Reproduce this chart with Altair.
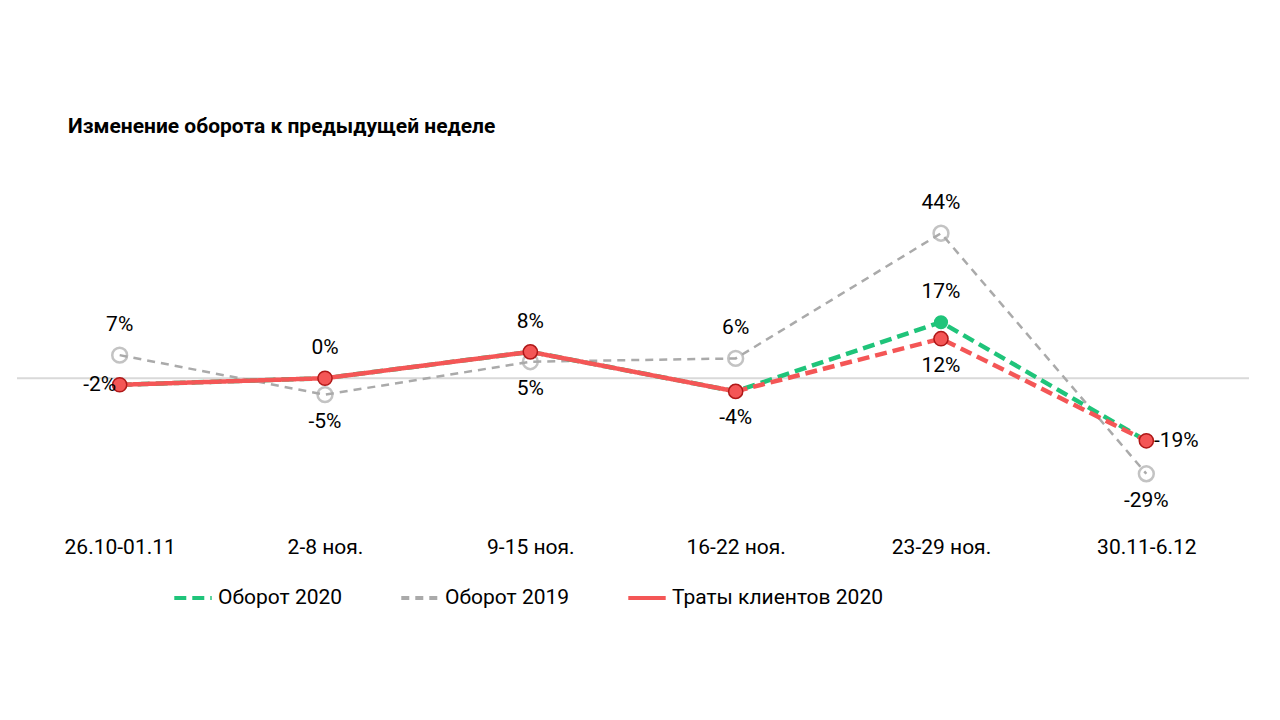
import altair as alt
import pandas as pd

weeks = ["26.10-01.11", "2-8 ноя.", "9-15 ноя.", "16-22 ноя.", "23-29 ноя.", "30.11-6.12"]
turnover_2020 = [-2, 0, 8, -4, 17, -19]
turnover_2019 = [7, -5, 5, 6, 44, -29]
spend_2020 = [-2, 0, 8, -4, 12, -19]

# label placement per point: a=above, b=below, l=left, r=right, "" = none
pos_2019 = ["a", "b", "b", "a", "a", "b"]
pos_t2020 = ["", "", "", "", "a", ""]
pos_s2020 = ["l", "a", "a", "b", "b", "r"]

S20, S19, SP = "Оборот 2020", "Оборот 2019", "Траты клиентов 2020"
GREEN, GREY, RED = "#1fc47a", "#aaaaaa", "#f45656"

rows = []
for name, vals, pos in [(S20, turnover_2020, pos_t2020), (S19, turnover_2019, pos_2019), (SP, spend_2020, pos_s2020)]:
    for i, (w, v) in enumerate(zip(weeks, vals)):
        rows.append({"week": w, "value": v, "series": name, "idx": i, "pos": pos[i], "label": f"{v}%"})
df = pd.DataFrame(rows)

x = alt.X("week:N", sort=weeks, scale=alt.Scale(type="point", padding=0.5),
          axis=alt.Axis(title=None, domain=False, ticks=False, labelAngle=0, labelFontSize=21,
                        labelPadding=26, labelColor="#000", labelFont="Roboto"))
y = alt.Y("value:Q", scale=alt.Scale(domain=[-40, 55]), axis=None)
color = alt.Color("series:N", scale=alt.Scale(domain=[S20, S19, SP], range=[GREEN, GREY, RED]),
                  legend=alt.Legend(title=None, orient="none", legendX=155, legendY=380,
                                    direction="horizontal",
                                    symbolType="stroke", symbolStrokeWidth=4, symbolSize=1400,
                                    labelFontSize=21, labelFont="Roboto", labelColor="#000",
                                    labelLimit=400, columnPadding=50))
dash = alt.StrokeDash("series:N", scale=alt.Scale(domain=[S20, S19, SP], range=[[12, 6], [8, 6], [1, 0]]),
                      legend=None)

base = alt.Chart(df)

zero = alt.Chart(pd.DataFrame({"v": [0]})).mark_rule(color="#d9d9d9", strokeWidth=2).encode(y=alt.Y("v:Q", scale=alt.Scale(domain=[-40, 55]), axis=None))

l19 = base.transform_filter(alt.datum.series == S19).mark_line(strokeWidth=2.5).encode(x=x, y=y, color=color, strokeDash=dash)
p19 = base.transform_filter(alt.datum.series == S19).mark_point(size=220, filled=False, strokeWidth=2.5, color=GREY).encode(x=x, y=y)
l20 = base.transform_filter(alt.datum.series == S20).mark_line(strokeWidth=4.5).encode(x=x, y=y, color=color, strokeDash=dash)
p20 = base.transform_filter(alt.datum.series == S20).mark_circle(size=200, opacity=1, color=GREEN).encode(x=x, y=y)
lsp_solid = base.transform_filter((alt.datum.series == SP) & (alt.datum.idx <= 3)).mark_line(strokeWidth=4.5).encode(x=x, y=y, color=color, strokeDash=dash)
lsp_dash = base.transform_filter((alt.datum.series == SP) & (alt.datum.idx >= 3)).mark_line(strokeWidth=4.5, strokeDash=[12, 6], color=RED).encode(x=x, y=y)
psp = base.transform_filter(alt.datum.series == SP).mark_circle(size=200, opacity=1, color=RED, stroke="#b01818", strokeWidth=1.5).encode(x=x, y=y)

def labels(p, **kw):
    return base.transform_filter(alt.datum.pos == p).mark_text(fontSize=21, font="Roboto", color="#000", **kw).encode(x=x, y=y, text="label:N")

texts = [labels("a", dy=-30), labels("b", dy=27), labels("l", dx=-20), labels("r", dx=30)]

chart = alt.layer(zero, l19, p19, l20, p20, lsp_solid, lsp_dash, psp, *texts).properties(
    width=1232, height=313,
    padding={"left": 8, "top": 108, "right": 10, "bottom": 10},
    title=alt.TitleParams("Изменение оборота к предыдущей неделе", anchor="start", dx=52,
                          fontSize=21, font="Roboto", fontWeight="bold", color="#000", offset=55),
).configure_view(stroke=None)

chart.save("out.html", embed_options={"renderer": "svg", "actions": False})
